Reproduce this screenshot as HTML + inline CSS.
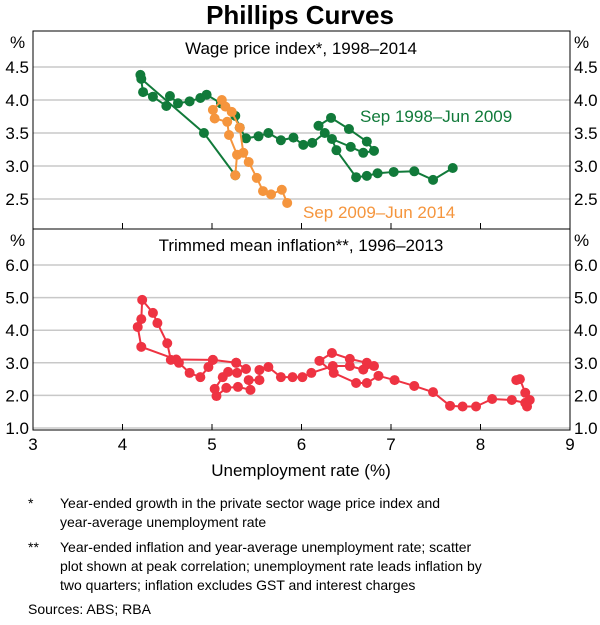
<!DOCTYPE html>
<html><head><meta charset="utf-8"><style>
body{margin:0;background:#fff;font-family:"Liberation Sans",Arial,sans-serif;}
svg text{font-family:"Liberation Sans",Arial,sans-serif;}
</style></head><body>
<svg id="c" width="600" height="620" xmlns="http://www.w3.org/2000/svg">
<text x="300" y="24" text-anchor="middle" font-size="26" font-weight="bold">Phillips Curves</text>
<g id="grid"></g>
<g id="marks"></g>
<rect x="33" y="31" width="537" height="399" fill="none" stroke="#000" stroke-width="1"/>
<line x1="33" y1="229" x2="570" y2="229" stroke="#000"/>
<text x="301" y="54" text-anchor="middle" font-size="17">Wage price index*, 1998–2014</text>
<text x="301" y="251" text-anchor="middle" font-size="17">Trimmed mean inflation**, 1996–2013</text>
<text x="360" y="122" font-size="17" fill="#117a3a">Sep 1998–Jun 2009</text>
<text x="303" y="218" font-size="17" fill="#f5953d">Sep 2009–Jun 2014</text>
<text x="10" y="48" font-size="17">%</text>
<text x="574" y="48" font-size="17">%</text>
<text x="10" y="246" font-size="17">%</text>
<text x="574" y="246" font-size="17">%</text>
<text x="301" y="476" text-anchor="middle" font-size="17">Unemployment rate (%)</text>
<g font-size="14">
<text x="28" y="508">*</text>
<text x="60" y="508">Year-ended growth in the private sector wage price index and</text>
<text x="60" y="527">year-average unemployment rate</text>
<text x="28" y="552">**</text>
<text x="60" y="552">Year-ended inflation and year-average unemployment rate; scatter</text>
<text x="60" y="571">plot shown at peak correlation; unemployment rate leads inflation by</text>
<text x="60" y="590">two quarters; inflation excludes GST and interest charges</text>
<text x="28" y="614">Sources:   ABS; RBA</text>
</g>
</svg>
<script>
const xTicks=[3,4,5,6,7,8,9];
const topTicks=[2.5,3.0,3.5,4.0,4.5];
const botTicks=[1.0,2.0,3.0,4.0,5.0,6.0];
const wpiEarlyU=[7.69,7.47,7.26,7.03,6.85,6.73,6.61,6.39,6.34,6.55,6.69,6.81,6.73,6.53,6.33,6.19,6.26,6.12,6.02,5.91,5.77,5.63,5.52,5.38,5.31,5.26,5.1,4.94,4.87,4.75,4.62,4.53,4.49,4.34,4.23,4.2,4.21,4.91,5.26];
const wpiEarlyV=[2.97,2.79,2.92,2.91,2.89,2.85,2.83,3.24,3.41,3.29,3.2,3.23,3.37,3.56,3.73,3.61,3.5,3.35,3.32,3.43,3.39,3.5,3.45,3.42,3.58,3.76,3.95,4.08,4.03,3.98,3.95,4.06,3.91,4.05,4.12,4.38,4.32,3.5,2.86];
const wpiLateU=[5.26,5.28,5.19,5.17,5.03,5.01,5.11,5.15,5.22,5.31,5.35,5.41,5.5,5.57,5.66,5.78,5.84];
const wpiLateV=[2.86,3.17,3.47,3.67,3.72,3.85,4.0,3.9,3.82,3.58,3.2,3.06,2.82,2.62,2.57,2.64,2.44];
const infU=[8.4,8.44,8.5,8.55,8.52,8.5,8.35,8.13,7.95,7.8,7.66,7.47,7.26,7.04,6.86,6.73,6.61,6.36,6.2,6.34,6.54,6.73,6.81,6.69,6.54,6.35,6.11,6.01,5.9,5.77,5.63,5.53,5.53,5.41,5.43,5.29,5.16,5.05,5.03,5.12,5.18,5.28,5.38,5.27,5.01,4.96,4.87,4.75,4.63,4.54,4.5,4.39,4.34,4.22,4.21,4.17,4.21,4.6,5.01,5.27];
const infV=[2.47,2.5,2.08,1.86,1.66,1.77,1.86,1.89,1.66,1.66,1.68,2.1,2.29,2.47,2.6,2.38,2.38,2.69,3.06,3.3,3.12,3.0,2.9,2.79,2.9,2.9,2.69,2.56,2.56,2.56,2.87,2.78,2.47,2.47,2.17,2.26,2.23,1.98,2.2,2.56,2.72,2.69,2.81,3.0,3.09,2.87,2.56,2.69,3.0,3.09,3.6,4.22,4.53,4.93,4.34,4.1,3.49,3.1,3.09,3.0];
const NS="http://www.w3.org/2000/svg";
const xS=u=>33+(u-3)*89.5;
const yTop=v=>100-(v-4.0)*66;
const yBot=v=>428-(v-1.0)*32.6;
const grid=document.getElementById('grid'),marks=document.getElementById('marks');
function mk(tag,attrs,parent){const e=document.createElementNS(NS,tag);for(const k in attrs)e.setAttribute(k,attrs[k]);parent.appendChild(e);return e;}
topTicks.forEach(t=>{const y=yTop(t);
 const l=mk('line',{x1:33,x2:570,y1:y,y2:y,stroke:'#c8c8c8','stroke-width':1.5},grid);
 
 
 const a=mk('text',{x:29,y:y+6,'text-anchor':'end','font-size':17},grid);a.textContent=t.toFixed(1);
 
 
 const b=mk('text',{x:574,y:y+6,'font-size':17},grid);b.textContent=t.toFixed(1);
 
 });
botTicks.forEach(t=>{const y=yBot(t);
 const l=mk('line',{x1:33,x2:570,y1:y,y2:y,stroke:'#c8c8c8','stroke-width':1.5},grid);
 
 
 const a=mk('text',{x:29,y:y+6,'text-anchor':'end','font-size':17},grid);a.textContent=t.toFixed(1);
 
 
 const b=mk('text',{x:574,y:y+6,'font-size':17},grid);b.textContent=t.toFixed(1);
 
 });
xTicks.forEach(t=>{const x=xS(t);
 const l=mk('line',{x1:x,x2:x,y1:430,y2:424,stroke:'#000'},grid);
 
 
 const l2=mk('line',{x1:x,x2:x,y1:229,y2:223,stroke:'#000'},grid);
 
 
 const a=mk('text',{x:x,y:450,'text-anchor':'middle','font-size':17},grid);a.textContent=t;
 
 });
function series(U,V,yf,color,name){
 const g=mk('g',{},marks);
 
 
 const pts=U.map((u,i)=>xS(u)+','+yf(V[i])).join(' ');
 const pl=mk('polyline',{points:pts,fill:'none',stroke:color,'stroke-width':2},g);
 
 
 U.forEach((u,i)=>{const c=mk('circle',{cx:xS(u),cy:yf(V[i]),r:5,fill:color},g);
  
  });
}
series(wpiEarlyU,wpiEarlyV,yTop,'#117a3a','wpi-1998-2009');
series(wpiLateU,wpiLateV,yTop,'#f5953d','wpi-2009-2014');
series(infU,infV,yBot,'#ee3342','trimmed-mean-inflation');
</script>
</body></html>
